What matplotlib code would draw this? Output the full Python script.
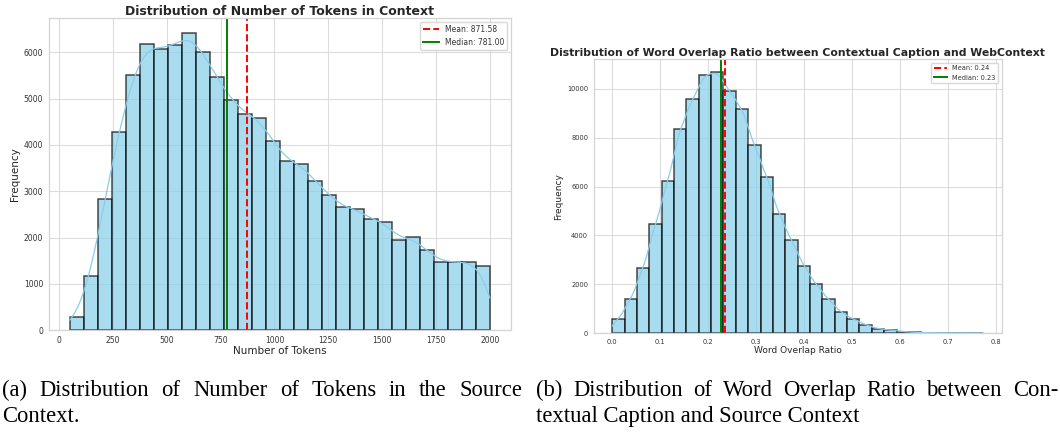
import math
import numpy as np
import matplotlib.pyplot as plt

# (a) number of tokens in context: 30 bins between 50 and 2000
tok_range = (50, 2000)
tok_counts = [290, 1160, 2830, 4290, 5520, 6180, 6070, 6150, 6420, 6010,
              5460, 4980, 4680, 4580, 4090, 3650, 3590, 3230, 2920, 2650,
              2610, 2400, 2330, 1950, 2010, 1720, 1460, 1480, 1460, 1380]
tok_mean, tok_median = 871.58, 781.00

# (b) word overlap ratio: 30 bins between 0 and ~0.774
ovl_range = (0.0, 0.774)
ovl_counts = [570, 1390, 2650, 4450, 6220, 8370, 9570, 10580, 10680, 9900,
              9180, 7690, 6410, 4870, 3800, 2760, 1990, 1380, 860, 570,
              340, 180, 120, 60, 30, 15, 8, 4, 2, 1]
ovl_mean, ovl_median = 0.236, 0.227

captions = [
    ["(a) Distribution of Number of Tokens in the Source", "Context."],
    ["(b) Distribution of Word Overlap Ratio between Con-",
     "textual Caption and Source Context"],
]

_erf = np.vectorize(math.erf)


def kde_from_hist(edges, counts, xs):
    # gaussian smoothing of the histogram, scaled to counts like seaborn does
    centers = (edges[:-1] + edges[1:]) / 2
    n = counts.sum()
    mu = (counts * centers).sum() / n
    sd = math.sqrt((counts * (centers - mu) ** 2).sum() / n)
    h = sd * n ** (-0.2)
    cdf = lambda z: 0.5 * (1 + _erf(z / math.sqrt(2)))
    y = np.zeros_like(xs)
    for a, b, c in zip(edges[:-1], edges[1:], counts):
        y += c * (cdf((xs - a) / h) - cdf((xs - b) / h))
    return y


def style(ax, fs):
    ax.set_facecolor('white')
    ax.set_axisbelow(True)
    ax.grid(True, color='#dcdcdc', linewidth=0.8)
    for s in ax.spines.values():
        s.set_color('#d4d4d4')
        s.set_linewidth(0.9)
    ax.tick_params(length=0, labelsize=fs, colors='#333333', pad=4)


def draw(ax, rng, counts, mean, median, fmt, title, xlabel, fs):
    counts = np.array(counts, dtype=float)
    edges = np.linspace(rng[0], rng[1], len(counts) + 1)
    centers = (edges[:-1] + edges[1:]) / 2
    style(ax, fs['tick'])
    ax.hist(centers, bins=edges, weights=counts, color='skyblue',
            edgecolor='black', alpha=0.7, linewidth=1.1)
    xs = np.linspace(rng[0], rng[1], 400)
    ax.plot(xs, kde_from_hist(edges, counts, xs), color='skyblue', linewidth=0.9)
    ax.axvline(mean, color='red', linestyle='--', linewidth=1.4,
               label=f'Mean: {mean:{fmt}}')
    ax.axvline(median, color='green', linestyle='-', linewidth=1.4,
               label=f'Median: {median:{fmt}}')
    ax.set_title(title, fontsize=fs['title'], fontweight='bold', color='#262626', pad=2)
    ax.set_xlabel(xlabel, fontsize=fs['label'], color='#262626', labelpad=1)
    ax.set_ylabel('Frequency', fontsize=fs['label'], color='#262626', labelpad=3)
    leg = ax.legend(loc='upper right', fontsize=fs['legend'], frameon=True,
                    edgecolor='#d4d4d4', framealpha=0.9, fancybox=True)
    for t in leg.get_texts():
        t.set_color('#333333')


def justified(fig, text, x0, x1, y, **kw):
    # lay the words out so the line fills x0..x1 (pixels), like LaTeX does
    r = fig.canvas.get_renderer()
    words = text.split()
    objs = [fig.text(0, y, w, **kw) for w in words]
    widths = [o.get_window_extent(r).width for o in objs]
    gap = (x1 - x0 - sum(widths)) / (len(words) - 1)
    x = x0
    for o, w in zip(objs, widths):
        o.set_x(x / fig.bbox.width)
        x += w + gap


fig = plt.figure(figsize=(10.6, 4.32), dpi=100)
ax1 = fig.add_axes([0.046, 0.236, 0.436, 0.722])
ax2 = fig.add_axes([0.560, 0.229, 0.385, 0.634])

draw(ax1, tok_range, tok_counts, tok_mean, tok_median, '.2f',
     'Distribution of Number of Tokens in Context', 'Number of Tokens',
     {'tick': 5.5, 'title': 9, 'label': 7.5, 'legend': 5.5})
draw(ax2, ovl_range, ovl_counts, ovl_mean, ovl_median, '.2f',
     'Distribution of Word Overlap Ratio between Contextual Caption and WebContext',
     'Word Overlap Ratio',
     {'tick': 4.8, 'title': 7.8, 'label': 6.5, 'legend': 4.8})

cap_kw = dict(fontsize=16.3, family='Liberation Serif', va='baseline',
              ha='left', color='black')
for (x0, x1), lines in zip([(2, 522), (536, 1058)], captions):
    justified(fig, lines[0], x0, x1, 1 - 396 / 432, **cap_kw)
    fig.text(x0 / 1060, 1 - 422 / 432, lines[1], **cap_kw)

plt.savefig('out.png', dpi=100)
plt.close()
